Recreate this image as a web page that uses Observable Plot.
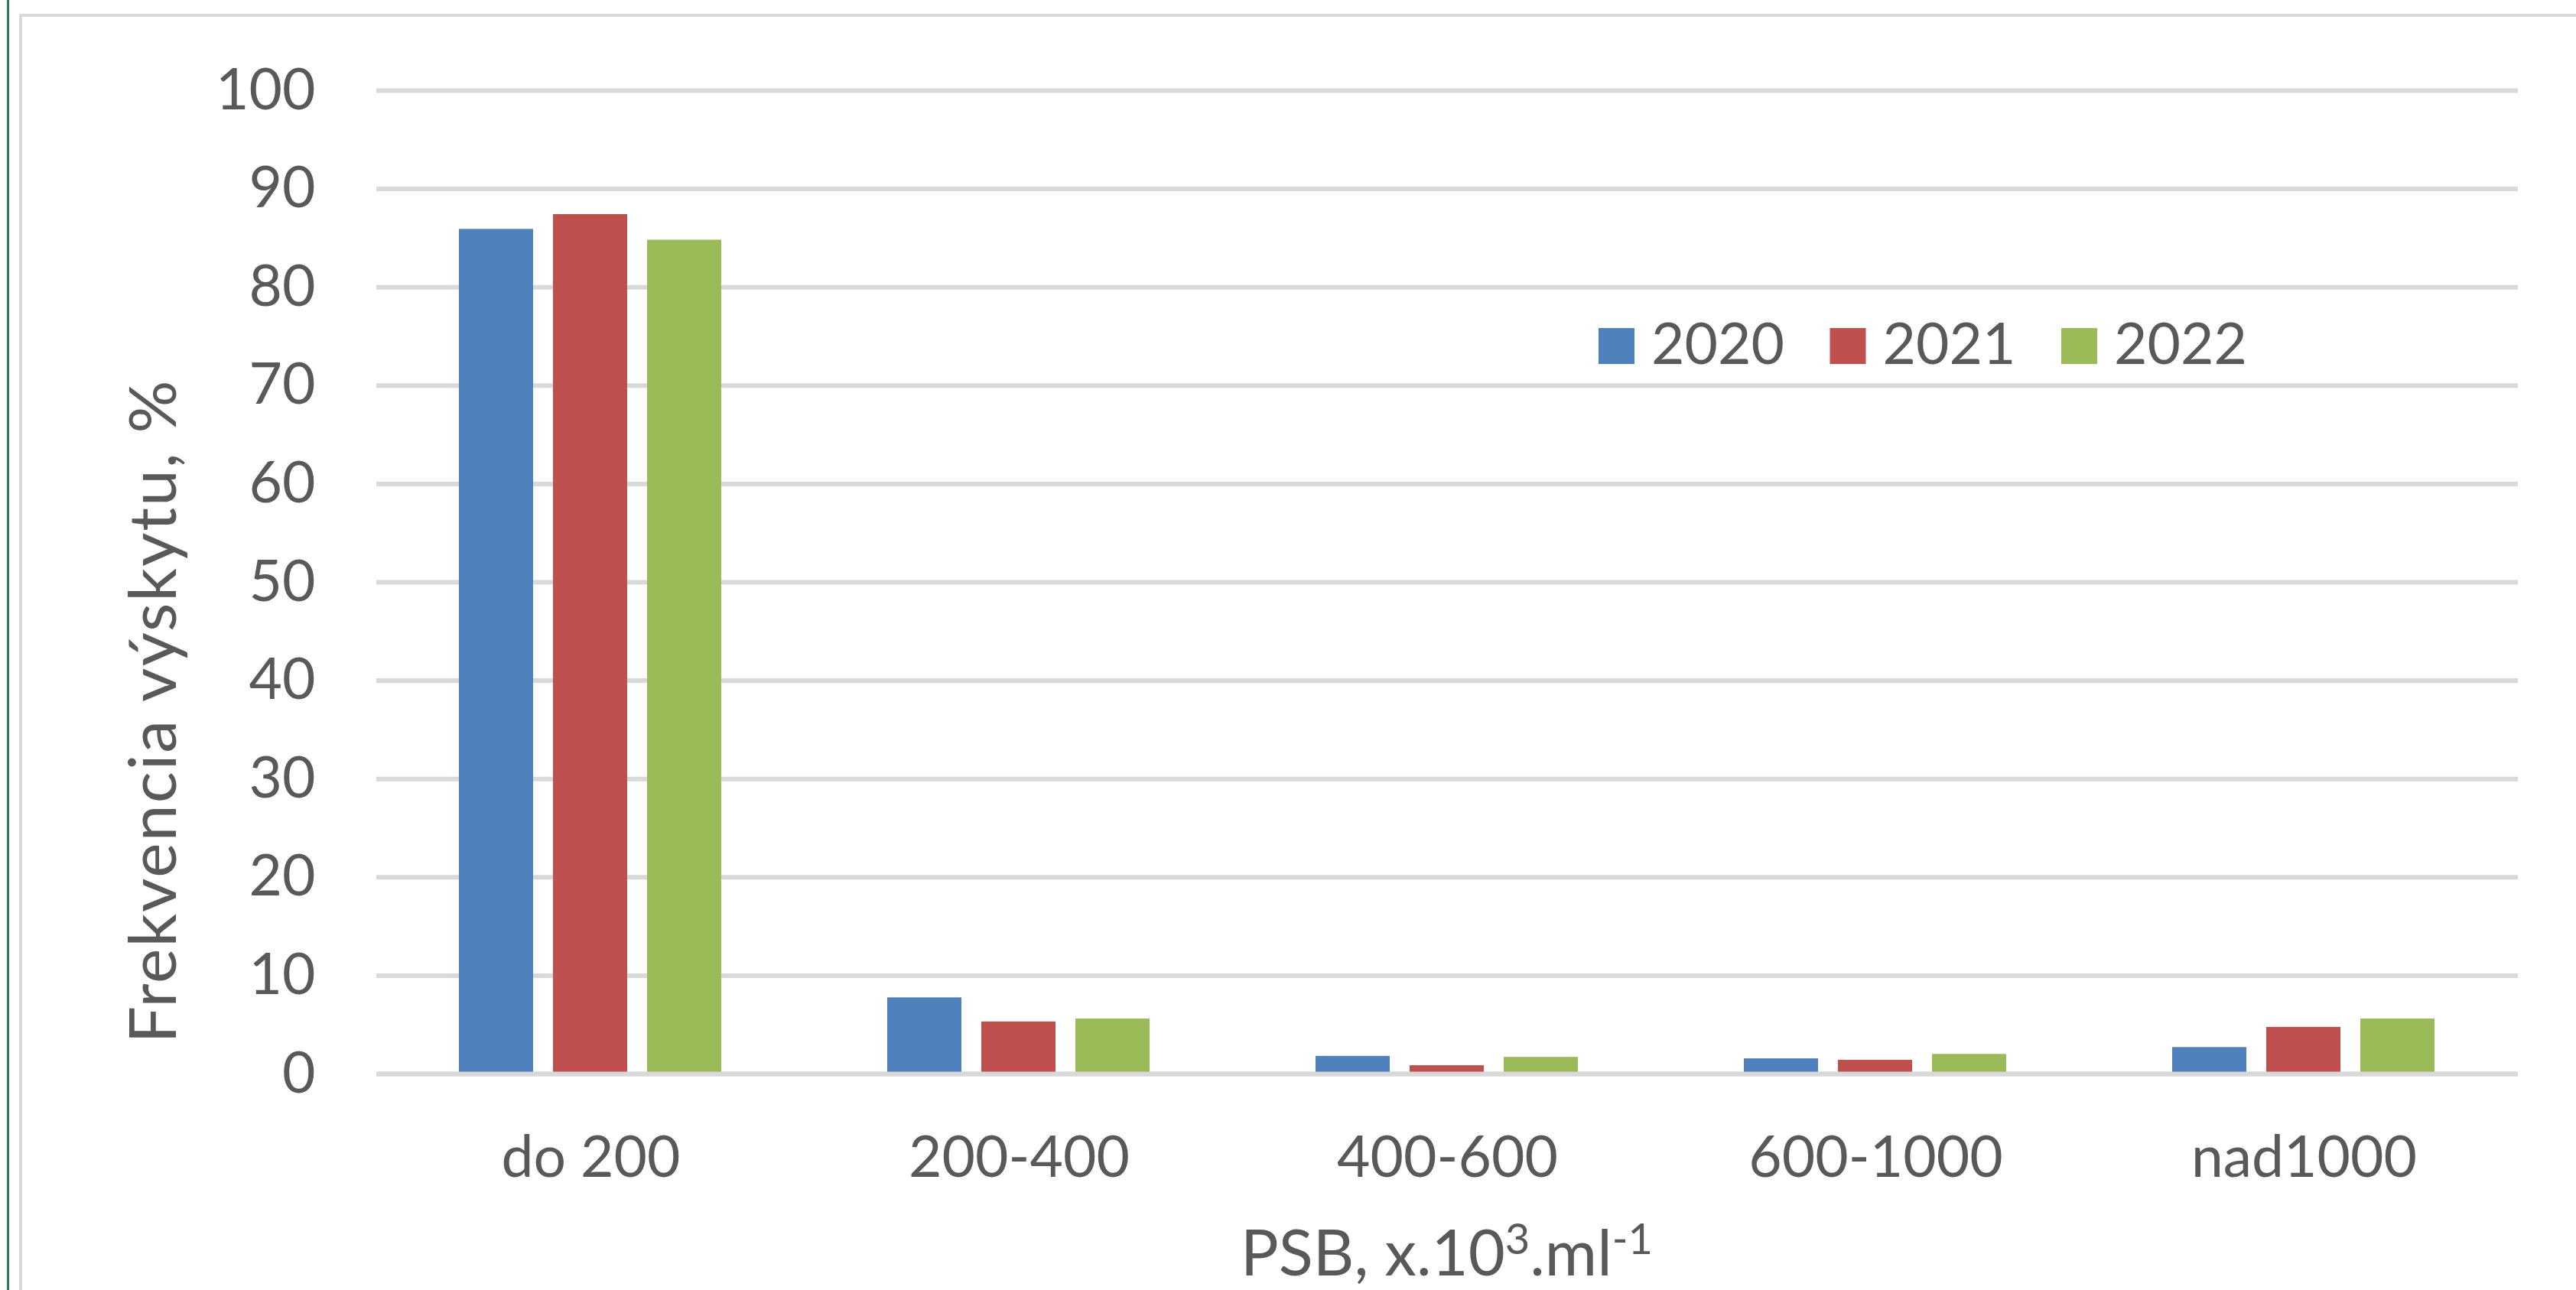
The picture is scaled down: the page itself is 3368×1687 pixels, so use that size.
<!DOCTYPE html>
<html>
<head>
<meta charset="utf-8">
<script src="https://cdn.jsdelivr.net/npm/d3@7"></script>
<script src="https://cdn.jsdelivr.net/npm/@observablehq/plot@0.6"></script>
<style>
  html, body { margin: 0; padding: 0; background: #ffffff; }
  #chart { position: relative; width: 3368px; height: 1687px; overflow: hidden; background: #ffffff; }
  #chart svg { display: block; }
</style>
</head>
<body>
<div id="chart"></div>
<script>
// ---------- data ----------
const categories = ["do 200", "200-400", "400-600", "600-1000", "nad1000"];
const years = ["2020", "2021", "2022"];
const values2020 = [85.9, 7.75, 1.8, 1.55, 2.7];
const values2021 = [87.4, 5.3, 0.85, 1.4, 4.75];
const values2022 = [84.8, 5.6, 1.7, 2.0, 5.6];
const yearColors = ["#4f81bd", "#c0504d", "#9bbb59"];
const yTicks = [0, 10, 20, 30, 40, 50, 60, 70, 80, 90, 100];
const yLabel = "Frekvencia výskytu, %";
const xLabelParts = [
  { text: "PSB, x.10", sup: false },
  { text: "3", sup: true },
  { text: ".ml", sup: false },
  { text: "-1", sup: true }
];

const seriesByYear = { "2020": values2020, "2021": values2021, "2022": values2022 };
const data = [];
categories.forEach((cat, i) => {
  years.forEach(year => data.push({ cat, year, value: seriesByYear[year][i] }));
});

// ---------- layout ----------
const W = 3368, H = 1687;
const M = { top: 118, bottom: 283, left: 490, right: 75 };
const FONT = "Lato, 'Open Sans', 'Noto Sans', sans-serif";
const TEXT = "#595959";
const GRID = "#d9d9d9";

const plot = Plot.plot({
  width: W,
  height: H,
  marginTop: M.top,
  marginBottom: M.bottom,
  marginLeft: M.left,
  marginRight: M.right,
  style: { fontFamily: FONT, fontSize: "75px", color: TEXT, background: "transparent", overflow: "visible" },
  fx: { domain: categories, padding: 0, axis: "bottom", tickSize: 0, tickPadding: 81, label: null },
  x: { domain: years, paddingInner: 0.21, paddingOuter: 0.865, axis: null },
  y: { domain: [0, 100], ticks: yTicks, tickSize: 0, tickPadding: 80, label: null },
  color: { domain: years, range: yearColors },
  marks: [
    Plot.ruleY(yTicks, { stroke: GRID, strokeWidth: 6 }),
    Plot.barY(data, { fx: "cat", x: "year", y: "value", fill: "year" }),
    Plot.ruleY([0], { stroke: GRID, strokeWidth: 6 })
  ]
});

document.getElementById("chart").appendChild(plot);

// ---------- decorations, legend, axis titles ----------
const svg = d3.select(plot);
const deco = svg.insert("g", ":first-child");
deco.append("line")
  .attr("x1", 10.5).attr("x2", 10.5).attr("y1", 0).attr("y2", H)
  .attr("stroke", "#2e7d4f").attr("stroke-width", 3);
deco.append("path")
  .attr("d", `M27,${H} V20 H${W}`)
  .attr("fill", "none").attr("stroke", GRID).attr("stroke-width", 4);

const color = plot.scale("color");
const legend = svg.append("g")
  .attr("font-family", FONT).attr("font-size", 75).attr("fill", TEXT)
  .attr("text-anchor", "start");
years.forEach((year, i) => {
  const x0 = 2090 + i * 302.5;
  legend.append("rect")
    .attr("x", x0).attr("y", 429).attr("width", 47).attr("height", 47)
    .attr("fill", color.apply(year));
  legend.append("text")
    .attr("x", x0 + 69).attr("y", 476)
    .attr("text-anchor", "start")
    .text(year);
});

svg.append("text")
  .attr("transform", "translate(230,930) rotate(-90)")
  .attr("text-anchor", "middle")
  .attr("font-family", FONT).attr("font-size", 86).attr("letter-spacing", 2)
  .attr("fill", TEXT)
  .text(yLabel);

const xl = svg.append("text")
  .attr("x", (M.left + W - M.right) / 2).attr("y", 1668)
  .attr("text-anchor", "middle")
  .attr("font-family", FONT).attr("font-size", 83).attr("fill", TEXT);
let shifted = false;
xLabelParts.forEach(p => {
  const t = xl.append("tspan").text(p.text);
  if (p.sup && !shifted) { t.attr("font-size", 56).attr("dy", -28); shifted = true; }
  else if (p.sup) { t.attr("font-size", 56); }
  else if (shifted) { t.attr("dy", 28); shifted = false; }
});
</script>
</body>
</html>
